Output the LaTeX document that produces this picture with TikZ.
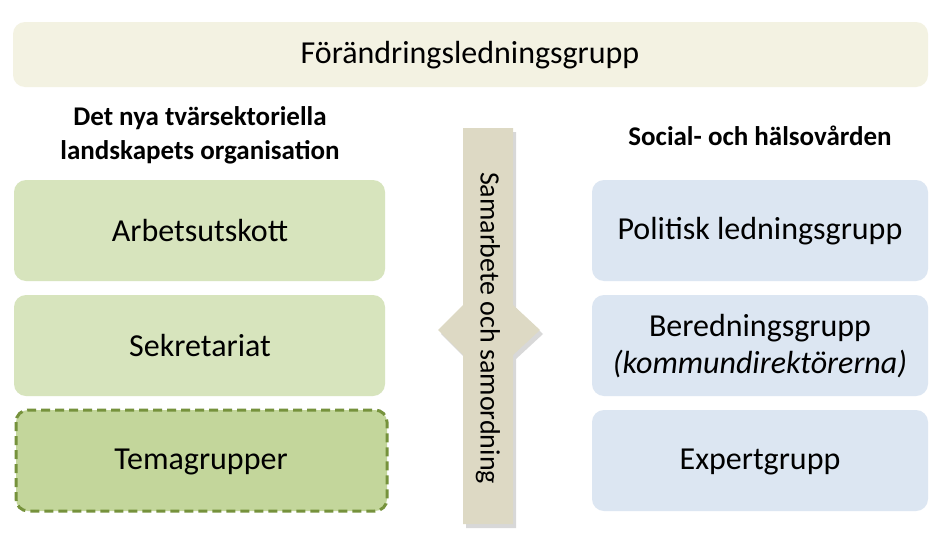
\documentclass[tikz,border=0pt]{standalone}
\usepackage{fontspec}
\setmainfont{Carlito}
\begin{document}
\begin{tikzpicture}[x=1pt,y=-1pt,
  box/.style={rounded corners=12pt,draw=none},
  lbl/.style={font=\fontsize{32}{36}\selectfont,align=center}]
\useasboundingbox (0,0) rectangle (942,538);
\fill[white] (0,0) rectangle (942,538);
\fill[box,fill=black!6!white!93!yellow] (13,22) rectangle (928,87);
\node[lbl] (top) at (470,55) {Förändringsledningsgrupp};
\node[font=\bfseries\fontsize{27}{34}\selectfont,align=center] (lh) at (200,135) {Det nya tvärsektoriella\\landskapets organisation};
\node[font=\bfseries\fontsize{27}{30}\selectfont] (rh) at (760,136) {Social- och hälsovården};
\definecolor{lg}{HTML}{D7E4BD}
\definecolor{dg}{HTML}{C3D69B}
\definecolor{lb}{HTML}{DCE6F2}
\fill[box,fill=lg] (14,180) rectangle (385,281);
\fill[box,fill=lg] (14,295) rectangle (385,396);
\draw[box,fill=dg,draw={rgb,255:red,118;green,146;blue,60},line width=3pt,dash pattern=on 9pt off 5pt] (16,410) rectangle (387,511);
\node[lbl] (a) at (200,231) {Arbetsutskott};
\node[lbl] (s) at (200,346) {Sekretariat};
\node[lbl] (t) at (201,462) {Temagrupper};
\fill[box,fill=lb] (592,180) rectangle (928,281);
\fill[box,fill=lb] (592,295) rectangle (928,396);
\fill[box,fill=lb] (592,410) rectangle (928,511);
\node[lbl] (p) at (760,231) {Politisk ledningsgrupp};
\node[lbl,font=\fontsize{32}{37}\selectfont] (b) at (760,346) {Beredningsgrupp\\\textit{(kommundirektörerna)}};
\node[lbl] (e) at (760,462) {Expertgrupp};
\definecolor{cb}{HTML}{DDD9C4}
\fill[black!25,opacity=0.6] (466,132) -- (516,132) -- (516,308) -- (543,334) -- (516,359) -- (516,528) -- (466,528) -- (466,359) -- (441,334) -- (466,308) -- cycle;
\fill[cb] (463,128) -- (513,128) -- (513,305) -- (540,330) -- (513,355) -- (513,524) -- (463,524) -- (463,355) -- (438,330) -- (463,305) -- cycle;
\node[lbl,rotate=-90,font=\fontsize{28}{32}\selectfont] (c) at (488,328) {Samarbete och samordning};
\end{tikzpicture}
\end{document}
